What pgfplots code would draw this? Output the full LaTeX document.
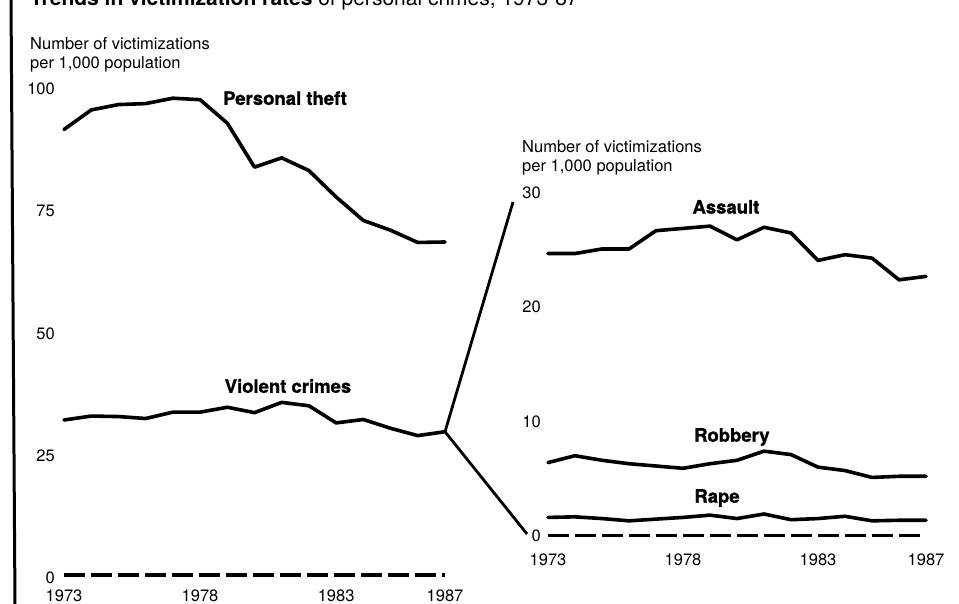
\documentclass[border=0pt]{standalone}
\usepackage{pgfplots}
\pgfplotsset{compat=1.18}
\usepackage{fontspec}
\setmainfont{TeX Gyre Heros}
\newfontfamily\heavyfont[FakeBold=1.2]{TeX Gyre Heros}

\pgfplotstableread{
year theft violent
1973 91.1 31.7
1974 95.1 32.5
1975 96.2 32.4
1976 96.4 32.0
1977 97.5 33.3
1978 97.2 33.3
1979 92.4 34.3
1980 83.4 33.2
1981 85.3 35.3
1982 82.7 34.6
1983 77.3 31.1
1984 72.5 31.8
1985 70.5 30.0
1986 68.0 28.5
1987 68.1 29.3
}\lefttable

\pgfplotstableread{
year assault robbery rape
1973 24.7 6.4 1.6
1974 24.7 7.0 1.65
1975 25.1 6.6 1.5
1976 25.1 6.3 1.3
1977 26.7 6.1 1.45
1978 26.9 5.9 1.6
1979 27.1 6.3 1.8
1980 25.9 6.6 1.5
1981 27.0 7.4 1.9
1982 26.5 7.1 1.4
1983 24.1 6.0 1.5
1984 24.6 5.7 1.7
1985 24.3 5.1 1.3
1986 22.4 5.2 1.35
1987 22.7 5.2 1.35
}\righttable

\tikzset{
  dataline/.style={black, line width=3.6bp, line join=round, line cap=round},
  zeroline/.style={black, line width=3.4bp, dash pattern=on 21bp off 6bp},
  lbl/.style={font=\fontsize{18.5bp}{21bp}\heavyfont\bfseries, anchor=center, inner sep=0pt},
}

\pgfplotsset{
  panel/.style={
    scale only axis, clip=false,
    axis line style={draw=none},
    major tick length=0pt,
    xmin=1973, xmax=1987,
    xtick={1973,1978,1983,1987},
    xticklabels={1973,1978,1983,1987},
    tick label style={font=\fontsize{16.5bp}{19bp}\selectfont},
  },
}

\begin{document}
\begin{tikzpicture}[x=1bp,y=1bp]
\useasboundingbox (0,0) rectangle (959,604);
\begin{scope}
\clip (0,0) rectangle (959,604);
\fill[white] (0,0) rectangle (959,604);

% page border line at left
\draw[black, line width=3bp] (11,606) -- (15,-2);

% cut-off title
\node[anchor=base west, inner sep=0pt, font=\fontsize{21bp}{24bp}\selectfont] at (30,598)
  {\textbf{Trends in victimization rates} of personal crimes, 1973-87};

% left axis title
\node[anchor=west, align=left, inner sep=0pt, font=\fontsize{16.5bp}{19bp}\selectfont] at (30,549.5)
  {Number of victimizations\\per 1,000 population};

% right axis title
\node[anchor=west, align=left, inner sep=0pt, font=\fontsize{16.5bp}{19bp}\selectfont] at (522,446)
  {Number of victimizations\\per 1,000 population};

% ---------- left panel ----------
\begin{axis}[panel,
  at={(64bp,29bp)}, anchor=south west,
  width=381bp, height=489bp,
  ymin=0, ymax=100,
  ytick={0,25,50,75,100},
  yticklabels={0,25,50,75,100},
  yticklabel style={anchor=east, inner sep=0pt, xshift=-9bp, yshift=-3bp},
  xticklabel style={anchor=center, inner sep=0pt, yshift=-21bp},
]
\addplot[zeroline] coordinates {(1973,0) (1987,0)};
\addplot[dataline] table[x=year, y=theft] {\lefttable};
\addplot[dataline] table[x=year, y=violent] {\lefttable};
\node[lbl] at (axis cs:1981.12,97.5) {Personal theft};
\node[lbl] at (axis cs:1981.23,38.65) {Violent crimes};
\coordinate (J) at (axis cs:1987,29.3);
\end{axis}

% ---------- right panel ----------
\begin{axis}[panel,
  at={(548bp,68.3bp)}, anchor=south west,
  width=378bp, height=342.7bp,
  ymin=0, ymax=30,
  ytick={0,10,20,30},
  yticklabels={0,10,20,30},
  yticklabel style={anchor=east, inner sep=0pt, xshift=-7bp},
  xticklabel style={anchor=center, inner sep=0pt, yshift=-24bp},
]
\addplot[zeroline] coordinates {(1973,0) (1987,0)};
\addplot[dataline] table[x=year, y=assault] {\righttable};
\addplot[dataline] table[x=year, y=robbery] {\righttable};
\addplot[dataline] table[x=year, y=rape] {\righttable};
\node[lbl] at (axis cs:1979.59,28.78) {Assault};
\node[lbl] at (axis cs:1979.81,8.64) {Robbery};
\node[lbl] at (axis cs:1979.26,3.30) {Rape};
\end{axis}

% connector lines
\draw[black, line width=2.8bp, line join=round] (513,402) -- (J) -- (527,70);
\end{scope}
\end{tikzpicture}
\end{document}
